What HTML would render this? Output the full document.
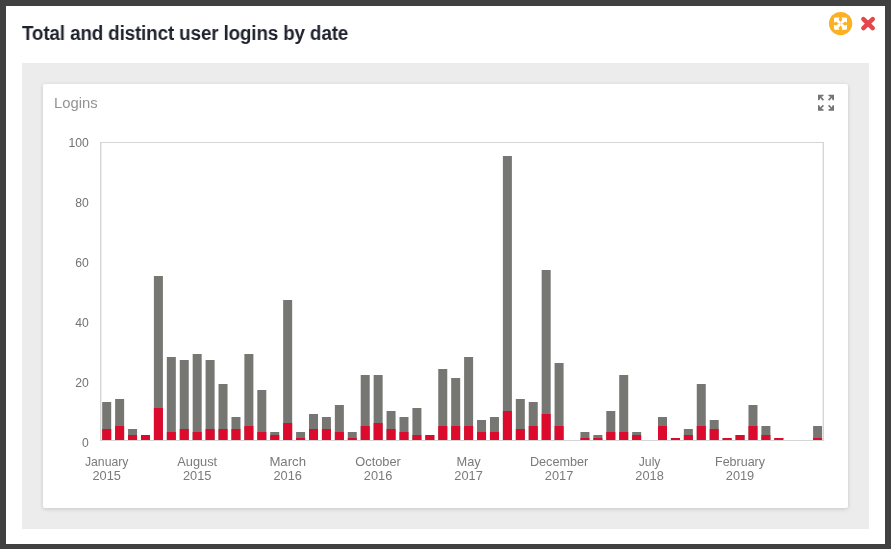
<!DOCTYPE html>
<html><head><meta charset="utf-8"><title>Total and distinct user logins by date</title>
<style>
html,body{margin:0;padding:0;}
body{width:891px;height:549px;background:#404040;overflow:hidden;position:relative;font-family:"Liberation Sans",sans-serif;}
.modal{position:absolute;left:6px;top:6px;width:879px;height:538px;background:#fff;}
.title{position:absolute;left:22.3px;top:21px;margin:0;font-size:19.6px;line-height:24px;font-weight:bold;color:#1e222d;white-space:nowrap;letter-spacing:-0.15px;transform-origin:0 0;transform:scaleX(0.962);will-change:transform;}
.panel{position:absolute;left:22px;top:63px;width:847px;height:466px;background:#ececec;}
.card{position:absolute;left:43px;top:84px;width:805px;height:424px;background:#fff;border-radius:2px;box-shadow:0 2px 4px rgba(0,0,0,.09),0 0 4px rgba(0,0,0,.07);}
.cardtitle{position:absolute;left:54px;top:94px;font-size:14.8px;line-height:18px;color:#939393;will-change:transform;}
svg{position:absolute;left:0;top:0;will-change:transform;}
.yl text{font-size:12.2px;fill:#737373;}
.xl text{font-size:12.8px;fill:#7a7a7a;}
</style></head><body>
<div class="modal"></div>
<h1 class="title">Total and distinct user logins by date</h1>
<div class="panel"></div>
<div class="card"></div>
<div class="cardtitle">Logins</div>
<svg width="891" height="549" viewBox="0 0 891 549" font-family="Liberation Sans, sans-serif">
<!-- top-right buttons -->
<circle cx="840.6" cy="23.55" r="11.65" fill="#fcb122"/>
<g transform="translate(840.5,23.7)">
  <rect x="-6.5" y="-6.1" width="13" height="12.2" rx="1.2" fill="#fff"/>
  <g fill="#fcb122">
    <path d="M-0.7,-7 L0.7,-7 L1.9,-4.3 L0,-1.7 L-1.9,-4.3 Z"/>
    <path d="M-0.7,7 L0.7,7 L1.9,4.3 L0,1.7 L-1.9,4.3 Z"/>
    <path d="M-7.4,-0.7 L-7.4,0.7 L-4.5,1.85 L-1.7,0 L-4.5,-1.85 Z"/>
    <path d="M7.4,-0.7 L7.4,0.7 L4.5,1.85 L1.7,0 L4.5,-1.85 Z"/>
  </g>
  <path d="M0,-1.8 L0,1.8 M-1.8,0 L1.8,0" stroke="#fcb122" stroke-width="0.5" fill="none" opacity="0.45"/>
</g>
<g stroke="#e4464b" stroke-width="4.5" stroke-linecap="round" fill="none">
  <line x1="863.4" y1="19.1" x2="872.7" y2="28.15"/>
  <line x1="872.7" y1="19.1" x2="863.4" y2="28.15"/>
</g>
<!-- card fullscreen icon -->
<g transform="translate(826,102.7)" fill="#747474">
  <path transform="translate(-8,-8)" d="M0,0 L5.5,0 L5.5,1.3 L4.2,1.9 L3.3,2.1 L6.0,4.8 L4.8,6.0 L2.1,3.3 L1.9,4.2 L1.3,5.5 L0,5.5 Z"/>
  <path transform="scale(-1,1) translate(-8,-8)" d="M0,0 L5.5,0 L5.5,1.3 L4.2,1.9 L3.3,2.1 L6.0,4.8 L4.8,6.0 L2.1,3.3 L1.9,4.2 L1.3,5.5 L0,5.5 Z"/>
  <path transform="scale(1,-1) translate(-8,-8)" d="M0,0 L5.5,0 L5.5,1.3 L4.2,1.9 L3.3,2.1 L6.0,4.8 L4.8,6.0 L2.1,3.3 L1.9,4.2 L1.3,5.5 L0,5.5 Z"/>
  <path transform="scale(-1,-1) translate(-8,-8)" d="M0,0 L5.5,0 L5.5,1.3 L4.2,1.9 L3.3,2.1 L6.0,4.8 L4.8,6.0 L2.1,3.3 L1.9,4.2 L1.3,5.5 L0,5.5 Z"/>
</g>
<!-- bars -->
<g>
<rect x="102.20" y="402.00" width="9.0" height="39.00" fill="#767672"/>
<rect x="102.20" y="429.00" width="9.0" height="12.00" fill="#dc0a2d"/>
<rect x="115.13" y="399.00" width="9.0" height="42.00" fill="#767672"/>
<rect x="115.13" y="426.00" width="9.0" height="15.00" fill="#dc0a2d"/>
<rect x="128.05" y="429.00" width="9.0" height="12.00" fill="#767672"/>
<rect x="128.05" y="435.00" width="9.0" height="6.00" fill="#dc0a2d"/>
<rect x="140.98" y="435.00" width="9.0" height="6.00" fill="#767672"/>
<rect x="140.98" y="435.00" width="9.0" height="6.00" fill="#dc0a2d"/>
<rect x="153.90" y="276.00" width="9.0" height="165.00" fill="#767672"/>
<rect x="153.90" y="408.00" width="9.0" height="33.00" fill="#dc0a2d"/>
<rect x="166.83" y="357.00" width="9.0" height="84.00" fill="#767672"/>
<rect x="166.83" y="432.00" width="9.0" height="9.00" fill="#dc0a2d"/>
<rect x="179.75" y="360.00" width="9.0" height="81.00" fill="#767672"/>
<rect x="179.75" y="429.00" width="9.0" height="12.00" fill="#dc0a2d"/>
<rect x="192.68" y="354.00" width="9.0" height="87.00" fill="#767672"/>
<rect x="192.68" y="432.00" width="9.0" height="9.00" fill="#dc0a2d"/>
<rect x="205.60" y="360.00" width="9.0" height="81.00" fill="#767672"/>
<rect x="205.60" y="429.00" width="9.0" height="12.00" fill="#dc0a2d"/>
<rect x="218.53" y="384.00" width="9.0" height="57.00" fill="#767672"/>
<rect x="218.53" y="429.00" width="9.0" height="12.00" fill="#dc0a2d"/>
<rect x="231.45" y="417.00" width="9.0" height="24.00" fill="#767672"/>
<rect x="231.45" y="429.00" width="9.0" height="12.00" fill="#dc0a2d"/>
<rect x="244.38" y="354.00" width="9.0" height="87.00" fill="#767672"/>
<rect x="244.38" y="426.00" width="9.0" height="15.00" fill="#dc0a2d"/>
<rect x="257.31" y="390.00" width="9.0" height="51.00" fill="#767672"/>
<rect x="257.31" y="432.00" width="9.0" height="9.00" fill="#dc0a2d"/>
<rect x="270.23" y="432.00" width="9.0" height="9.00" fill="#767672"/>
<rect x="270.23" y="435.00" width="9.0" height="6.00" fill="#dc0a2d"/>
<rect x="283.16" y="300.00" width="9.0" height="141.00" fill="#767672"/>
<rect x="283.16" y="423.00" width="9.0" height="18.00" fill="#dc0a2d"/>
<rect x="296.08" y="432.00" width="9.0" height="9.00" fill="#767672"/>
<rect x="296.08" y="438.00" width="9.0" height="3.00" fill="#dc0a2d"/>
<rect x="309.01" y="414.00" width="9.0" height="27.00" fill="#767672"/>
<rect x="309.01" y="429.00" width="9.0" height="12.00" fill="#dc0a2d"/>
<rect x="321.93" y="417.00" width="9.0" height="24.00" fill="#767672"/>
<rect x="321.93" y="429.00" width="9.0" height="12.00" fill="#dc0a2d"/>
<rect x="334.86" y="405.00" width="9.0" height="36.00" fill="#767672"/>
<rect x="334.86" y="432.00" width="9.0" height="9.00" fill="#dc0a2d"/>
<rect x="347.78" y="432.00" width="9.0" height="9.00" fill="#767672"/>
<rect x="347.78" y="438.00" width="9.0" height="3.00" fill="#dc0a2d"/>
<rect x="360.71" y="375.00" width="9.0" height="66.00" fill="#767672"/>
<rect x="360.71" y="426.00" width="9.0" height="15.00" fill="#dc0a2d"/>
<rect x="373.64" y="375.00" width="9.0" height="66.00" fill="#767672"/>
<rect x="373.64" y="423.00" width="9.0" height="18.00" fill="#dc0a2d"/>
<rect x="386.56" y="411.00" width="9.0" height="30.00" fill="#767672"/>
<rect x="386.56" y="429.00" width="9.0" height="12.00" fill="#dc0a2d"/>
<rect x="399.49" y="417.00" width="9.0" height="24.00" fill="#767672"/>
<rect x="399.49" y="432.00" width="9.0" height="9.00" fill="#dc0a2d"/>
<rect x="412.41" y="408.00" width="9.0" height="33.00" fill="#767672"/>
<rect x="412.41" y="435.00" width="9.0" height="6.00" fill="#dc0a2d"/>
<rect x="425.34" y="435.00" width="9.0" height="6.00" fill="#767672"/>
<rect x="425.34" y="435.00" width="9.0" height="6.00" fill="#dc0a2d"/>
<rect x="438.26" y="369.00" width="9.0" height="72.00" fill="#767672"/>
<rect x="438.26" y="426.00" width="9.0" height="15.00" fill="#dc0a2d"/>
<rect x="451.19" y="378.00" width="9.0" height="63.00" fill="#767672"/>
<rect x="451.19" y="426.00" width="9.0" height="15.00" fill="#dc0a2d"/>
<rect x="464.11" y="357.00" width="9.0" height="84.00" fill="#767672"/>
<rect x="464.11" y="426.00" width="9.0" height="15.00" fill="#dc0a2d"/>
<rect x="477.04" y="420.00" width="9.0" height="21.00" fill="#767672"/>
<rect x="477.04" y="432.00" width="9.0" height="9.00" fill="#dc0a2d"/>
<rect x="489.96" y="417.00" width="9.0" height="24.00" fill="#767672"/>
<rect x="489.96" y="432.00" width="9.0" height="9.00" fill="#dc0a2d"/>
<rect x="502.89" y="156.00" width="9.0" height="285.00" fill="#767672"/>
<rect x="502.89" y="411.00" width="9.0" height="30.00" fill="#dc0a2d"/>
<rect x="515.82" y="399.00" width="9.0" height="42.00" fill="#767672"/>
<rect x="515.82" y="429.00" width="9.0" height="12.00" fill="#dc0a2d"/>
<rect x="528.74" y="402.00" width="9.0" height="39.00" fill="#767672"/>
<rect x="528.74" y="426.00" width="9.0" height="15.00" fill="#dc0a2d"/>
<rect x="541.67" y="270.00" width="9.0" height="171.00" fill="#767672"/>
<rect x="541.67" y="414.00" width="9.0" height="27.00" fill="#dc0a2d"/>
<rect x="554.59" y="363.00" width="9.0" height="78.00" fill="#767672"/>
<rect x="554.59" y="426.00" width="9.0" height="15.00" fill="#dc0a2d"/>
<rect x="580.44" y="432.00" width="9.0" height="9.00" fill="#767672"/>
<rect x="580.44" y="438.00" width="9.0" height="3.00" fill="#dc0a2d"/>
<rect x="593.37" y="435.00" width="9.0" height="6.00" fill="#767672"/>
<rect x="593.37" y="438.00" width="9.0" height="3.00" fill="#dc0a2d"/>
<rect x="606.29" y="411.00" width="9.0" height="30.00" fill="#767672"/>
<rect x="606.29" y="432.00" width="9.0" height="9.00" fill="#dc0a2d"/>
<rect x="619.22" y="375.00" width="9.0" height="66.00" fill="#767672"/>
<rect x="619.22" y="432.00" width="9.0" height="9.00" fill="#dc0a2d"/>
<rect x="632.15" y="432.00" width="9.0" height="9.00" fill="#767672"/>
<rect x="632.15" y="435.00" width="9.0" height="6.00" fill="#dc0a2d"/>
<rect x="658.00" y="417.00" width="9.0" height="24.00" fill="#767672"/>
<rect x="658.00" y="426.00" width="9.0" height="15.00" fill="#dc0a2d"/>
<rect x="670.92" y="438.00" width="9.0" height="3.00" fill="#767672"/>
<rect x="670.92" y="438.00" width="9.0" height="3.00" fill="#dc0a2d"/>
<rect x="683.85" y="429.00" width="9.0" height="12.00" fill="#767672"/>
<rect x="683.85" y="435.00" width="9.0" height="6.00" fill="#dc0a2d"/>
<rect x="696.77" y="384.00" width="9.0" height="57.00" fill="#767672"/>
<rect x="696.77" y="426.00" width="9.0" height="15.00" fill="#dc0a2d"/>
<rect x="709.70" y="420.00" width="9.0" height="21.00" fill="#767672"/>
<rect x="709.70" y="429.00" width="9.0" height="12.00" fill="#dc0a2d"/>
<rect x="722.62" y="438.00" width="9.0" height="3.00" fill="#767672"/>
<rect x="722.62" y="438.00" width="9.0" height="3.00" fill="#dc0a2d"/>
<rect x="735.55" y="435.00" width="9.0" height="6.00" fill="#767672"/>
<rect x="735.55" y="435.00" width="9.0" height="6.00" fill="#dc0a2d"/>
<rect x="748.48" y="405.00" width="9.0" height="36.00" fill="#767672"/>
<rect x="748.48" y="426.00" width="9.0" height="15.00" fill="#dc0a2d"/>
<rect x="761.40" y="426.00" width="9.0" height="15.00" fill="#767672"/>
<rect x="761.40" y="435.00" width="9.0" height="6.00" fill="#dc0a2d"/>
<rect x="774.33" y="438.00" width="9.0" height="3.00" fill="#767672"/>
<rect x="774.33" y="438.00" width="9.0" height="3.00" fill="#dc0a2d"/>
<rect x="813.10" y="426.00" width="9.0" height="15.00" fill="#767672"/>
<rect x="813.10" y="438.00" width="9.0" height="3.00" fill="#dc0a2d"/>
</g>
<!-- plot area border, drawn over bars -->
<g fill="#d5d5d5">
<rect x="100" y="142" width="1.4" height="299"/>
<rect x="822.65" y="142" width="1.35" height="299"/>
<rect x="100" y="142" width="724" height="1"/>
<rect x="100" y="440" width="724" height="1"/>
</g>
<g class="yl">
<text id="y0" x="88.9" y="446.9" text-anchor="end">0</text>
<text id="y20" x="88.9" y="386.9" text-anchor="end">20</text>
<text id="y40" x="88.9" y="326.9" text-anchor="end">40</text>
<text id="y60" x="88.9" y="266.9" text-anchor="end">60</text>
<text id="y80" x="88.9" y="206.9" text-anchor="end">80</text>
<text id="y100" x="88.9" y="146.9" text-anchor="end">100</text>
</g>
<g class="xl">
<text id="m0" x="106.7" y="466.3" text-anchor="middle" textLength="43.60" lengthAdjust="spacingAndGlyphs">January</text><text id="r0" x="106.7" y="480.1" text-anchor="middle">2015</text>
<text id="m1" x="197.2" y="466.3" text-anchor="middle">August</text><text id="r1" x="197.2" y="480.1" text-anchor="middle">2015</text>
<text id="m2" x="287.7" y="466.3" text-anchor="middle" textLength="36.60" lengthAdjust="spacingAndGlyphs">March</text><text id="r2" x="287.7" y="480.1" text-anchor="middle">2016</text>
<text id="m3" x="378.1" y="466.3" text-anchor="middle">October</text><text id="r3" x="378.1" y="480.1" text-anchor="middle">2016</text>
<text id="m4" x="468.6" y="466.3" text-anchor="middle">May</text><text id="r4" x="468.6" y="480.1" text-anchor="middle">2017</text>
<text id="m5" x="559.1" y="466.3" text-anchor="middle" textLength="58.40" lengthAdjust="spacingAndGlyphs">December</text><text id="r5" x="559.1" y="480.1" text-anchor="middle">2017</text>
<text id="m6" x="649.6" y="466.3" text-anchor="middle" textLength="21.70" lengthAdjust="spacingAndGlyphs">July</text><text id="r6" x="649.6" y="480.1" text-anchor="middle">2018</text>
<text id="m7" x="740.0" y="466.3" text-anchor="middle" textLength="50.00" lengthAdjust="spacingAndGlyphs">February</text><text id="r7" x="740.0" y="480.1" text-anchor="middle">2019</text>
</g>
</svg>
</body></html>
